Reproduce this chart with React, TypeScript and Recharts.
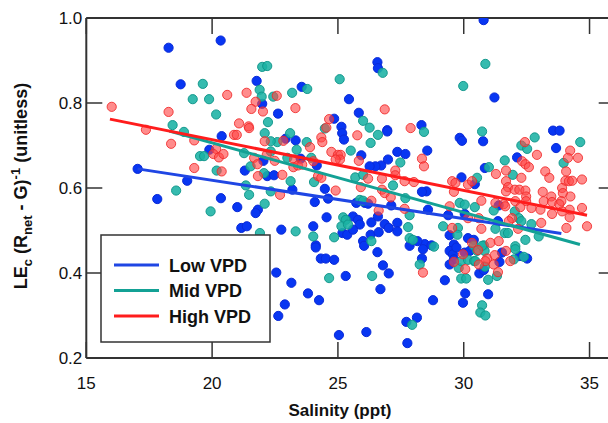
import React from 'react';
import { ScatterChart, Scatter, XAxis, YAxis } from 'recharts';

const xTicks = [15, 20, 25, 30, 35];
const yTicks = [0.2, 0.4, 0.6, 0.8, 1.0];
const seriesNames = ['Low VPD', 'Mid VPD', 'High VPD'];

const lowVPD: [number, number][] = [
  [18.27, 0.93], [20.34, 0.947], [18.75, 0.844], [21.77, 0.852], [21.99, 0.798], [22.62, 0.775], [23.56, 0.838],
  [25.44, 0.809], [24.85, 0.763], [25.14, 0.744], [26.57, 0.896], [26.59, 0.882], [25.83, 0.777], [28.32, 0.748],
  [26.96, 0.736], [30.79, 0.995], [31.22, 0.813], [33.55, 0.735], [33.81, 0.735], [20.38, 0.722], [19.89, 0.69],
  [17.04, 0.645], [19.01, 0.617], [17.82, 0.574], [20.35, 0.576], [22.92, 0.716], [23.32, 0.712], [25.17, 0.729],
  [25.24, 0.714], [22.04, 0.664], [23.52, 0.669], [24.16, 0.653], [21.3, 0.641], [22.19, 0.628], [22.46, 0.63],
  [24.48, 0.598], [23.19, 0.596], [24.08, 0.567], [24.61, 0.575], [21.0, 0.555], [21.82, 0.549], [21.73, 0.541],
  [21.16, 0.506], [21.38, 0.51], [22.75, 0.502], [24.02, 0.51], [24.55, 0.531], [25.18, 0.494], [24.12, 0.465],
  [25.37, 0.49], [26.96, 0.733], [29.84, 0.718], [29.93, 0.711], [25.93, 0.677], [27.36, 0.685], [27.68, 0.68],
  [28.55, 0.688], [26.99, 0.667], [26.72, 0.653], [26.49, 0.651], [26.26, 0.651], [28.52, 0.592], [28.34, 0.591],
  [29.91, 0.625], [25.73, 0.565], [26.07, 0.565], [26.2, 0.563], [27.12, 0.559], [28.58, 0.549], [29.38, 0.536],
  [30.04, 0.539], [25.6, 0.533], [25.8, 0.525], [25.87, 0.514], [25.6, 0.502], [26.33, 0.519], [26.59, 0.533],
  [26.86, 0.515], [27.02, 0.506], [27.36, 0.518], [27.36, 0.498], [26.3, 0.49], [26.62, 0.496], [26.0, 0.475],
  [28.45, 0.468], [28.72, 0.465], [28.16, 0.475], [29.44, 0.489], [30.17, 0.482], [29.61, 0.467], [30.77, 0.71],
  [33.67, 0.694], [32.12, 0.672], [30.84, 0.647], [30.44, 0.609], [31.39, 0.559], [31.36, 0.522], [30.4, 0.478],
  [24.12, 0.46], [24.32, 0.434], [24.52, 0.434], [24.85, 0.431], [22.55, 0.401], [25.31, 0.393], [23.15, 0.377],
  [23.81, 0.352], [24.25, 0.336], [22.89, 0.326], [22.63, 0.299], [25.04, 0.254], [26.57, 0.449], [27.85, 0.464],
  [28.38, 0.456], [28.34, 0.434], [26.79, 0.418], [27.02, 0.399], [26.69, 0.362], [29.25, 0.383], [28.78, 0.336],
  [27.72, 0.285], [28.14, 0.295], [26.13, 0.261], [27.76, 0.235], [29.44, 0.452], [29.57, 0.444], [29.71, 0.46],
  [29.61, 0.432], [29.44, 0.42], [30.04, 0.448], [30.24, 0.452], [30.06, 0.352], [29.97, 0.33], [26.04, 0.464],
  [30.62, 0.399], [30.8, 0.407], [31.42, 0.426], [31.52, 0.448], [32.23, 0.44], [32.52, 0.434], [30.97, 0.35],
];

const midVPD: [number, number][] = [
  [19.63, 0.845], [19.23, 0.809], [19.88, 0.809], [20.16, 0.773], [18.43, 0.748], [21.99, 0.885], [22.19, 0.887],
  [21.89, 0.831], [21.97, 0.815], [22.43, 0.815], [23.18, 0.824], [23.78, 0.833], [25.07, 0.856], [22.22, 0.755],
  [26.78, 0.871], [29.98, 0.84], [26.0, 0.758], [26.26, 0.742], [30.86, 0.892], [18.88, 0.732], [19.52, 0.675],
  [19.68, 0.675], [20.18, 0.641], [18.57, 0.594], [19.94, 0.545], [22.09, 0.729], [23.1, 0.729], [22.59, 0.708],
  [22.33, 0.71], [23.76, 0.708], [23.36, 0.69], [24.48, 0.74], [21.27, 0.682], [22.33, 0.686], [21.53, 0.651],
  [22.99, 0.671], [23.94, 0.671], [22.06, 0.635], [23.12, 0.616], [24.05, 0.614], [21.34, 0.606], [22.33, 0.592],
  [21.47, 0.584], [22.09, 0.563], [21.9, 0.494], [23.32, 0.498], [25.21, 0.531], [25.31, 0.525], [25.14, 0.51],
  [25.4, 0.514], [24.85, 0.484], [24.02, 0.486], [26.3, 0.706], [26.59, 0.725], [28.42, 0.732], [25.51, 0.688],
  [27.48, 0.66], [25.69, 0.625], [26.0, 0.631], [27.19, 0.606], [25.87, 0.572], [26.0, 0.57], [27.68, 0.576],
  [27.85, 0.536], [29.84, 0.565], [30.04, 0.561], [27.79, 0.508], [26.33, 0.475], [27.85, 0.482], [27.98, 0.478],
  [29.18, 0.51], [29.77, 0.506], [29.75, 0.49], [30.73, 0.733], [32.82, 0.719], [32.29, 0.7], [32.52, 0.692],
  [34.63, 0.708], [33.97, 0.659], [31.63, 0.665], [31.0, 0.649], [31.95, 0.631], [30.53, 0.624], [30.44, 0.555],
  [31.19, 0.547], [32.03, 0.545], [32.19, 0.529], [32.29, 0.522], [31.26, 0.504], [31.63, 0.494], [31.76, 0.494],
  [32.69, 0.515], [30.8, 0.465], [32.05, 0.463], [32.45, 0.478], [32.98, 0.486], [24.65, 0.388], [28.82, 0.462],
  [28.25, 0.42], [26.36, 0.393], [27.95, 0.278], [29.8, 0.412], [29.9, 0.387], [30.1, 0.387], [29.9, 0.428],
  [30.17, 0.431], [30.41, 0.428], [30.4, 0.464], [30.53, 0.452], [30.83, 0.452], [30.73, 0.464], [30.46, 0.428],
  [30.84, 0.415], [31.32, 0.393], [30.97, 0.384], [31.99, 0.432], [32.39, 0.438], [30.73, 0.324], [30.66, 0.307],
  [30.86, 0.3], [32.05, 0.456],
];

const highVPD: [number, number][] = [
  [16.01, 0.791], [18.27, 0.779], [20.6, 0.819], [21.73, 0.803], [22.57, 0.817], [21.37, 0.824], [21.56, 0.786],
  [22.02, 0.78], [23.31, 0.788], [21.07, 0.752], [21.45, 0.745], [24.65, 0.762], [24.54, 0.742], [26.86, 0.785],
  [27.89, 0.741], [17.37, 0.737], [18.37, 0.704], [19.29, 0.712], [20.16, 0.692], [20.05, 0.68], [20.27, 0.672],
  [20.45, 0.68], [19.29, 0.647], [20.38, 0.639], [20.87, 0.725], [20.98, 0.725], [21.47, 0.741], [22.83, 0.711],
  [22.09, 0.71], [23.89, 0.696], [24.34, 0.719], [24.38, 0.708], [21.67, 0.671], [22.17, 0.678], [21.8, 0.656],
  [22.49, 0.664], [23.26, 0.667], [23.23, 0.649], [23.41, 0.653], [23.58, 0.655], [24.02, 0.663], [24.74, 0.685],
  [25.0, 0.678], [25.11, 0.678], [25.08, 0.667], [24.91, 0.667], [21.82, 0.628], [22.79, 0.631], [24.21, 0.628],
  [24.34, 0.624], [24.91, 0.594], [22.7, 0.584], [25.77, 0.724], [25.83, 0.664], [28.34, 0.669], [28.42, 0.651],
  [27.28, 0.641], [27.28, 0.63], [26.2, 0.622], [26.75, 0.622], [27.65, 0.616], [28.02, 0.614], [29.54, 0.616],
  [29.67, 0.612], [29.61, 0.591], [30.17, 0.608], [30.33, 0.616], [25.91, 0.602], [26.75, 0.596], [26.86, 0.588],
  [27.1, 0.578], [26.33, 0.57], [26.62, 0.547], [27.65, 0.551], [29.44, 0.557], [30.17, 0.529], [29.54, 0.506],
  [30.33, 0.471], [32.43, 0.708], [32.91, 0.678], [34.23, 0.688], [34.14, 0.671], [34.54, 0.671], [32.32, 0.663],
  [32.45, 0.656], [32.59, 0.649], [31.68, 0.641], [31.28, 0.633], [32.29, 0.624], [33.24, 0.639], [33.4, 0.624],
  [34.07, 0.639], [34.04, 0.617], [34.18, 0.616], [34.31, 0.617], [34.7, 0.62], [31.68, 0.616], [31.76, 0.602],
  [31.68, 0.592], [32.03, 0.596], [32.21, 0.596], [32.45, 0.594], [33.14, 0.591], [33.48, 0.58], [33.91, 0.6],
  [33.94, 0.588], [34.24, 0.58], [33.88, 0.569], [32.48, 0.58], [32.48, 0.569], [30.7, 0.57], [31.26, 0.565],
  [31.59, 0.562], [31.65, 0.557], [32.05, 0.569], [32.25, 0.555], [32.69, 0.553], [33.05, 0.549], [33.18, 0.569],
  [33.51, 0.567], [33.51, 0.539], [33.8, 0.562], [33.91, 0.545], [34.21, 0.549], [34.21, 0.531], [34.7, 0.553],
  [34.9, 0.51], [31.92, 0.529], [31.79, 0.522], [30.6, 0.529], [30.7, 0.504], [32.16, 0.504], [33.08, 0.518],
  [34.08, 0.506], [31.06, 0.471], [31.39, 0.475], [28.38, 0.401], [29.61, 0.426], [29.97, 0.444], [30.06, 0.409],
  [30.57, 0.454], [30.93, 0.434], [30.86, 0.428], [30.6, 0.42], [31.19, 0.42], [31.23, 0.442], [31.36, 0.402],
  [31.68, 0.452], [31.85, 0.428],
];

const fitLow: [number, number][] = [[17.04, 0.645], [33.88, 0.493]];
const fitMid: [number, number][] = [[18.3, 0.734], [34.62, 0.467]];
const fitHigh: [number, number][] = [[15.94, 0.762], [34.9, 0.536]];

const toPts = (a: [number, number][]) => a.map(([x, y]) => ({ x, y }));

const FONT = '"Liberation Sans", Arial, Helvetica, sans-serif';
const AX = '#333';
const TICK = 16;

const BLUE_PT = { fill: '#0836f2', stroke: '#0a2ad8' };
const TEAL_PT = { fill: 'rgba(26,178,164,0.88)', stroke: 'rgba(16,150,138,0.95)' };
const RED_PT = { fill: 'rgba(255,70,70,0.62)', stroke: 'rgba(240,40,40,0.85)' };

const LINE_COLORS = ['#1f46e4', '#13a195', '#ff1c1c'];

const dot = (style: { fill: string; stroke: string }) => (p: any) => (
  <circle cx={p.cx} cy={p.cy} r={4.6} fill={style.fill} stroke={style.stroke} strokeWidth={1} />
);
const noDot = () => <g />;

const BottomTick = (p: any) => (
  <g>
    <line x1={p.x} x2={p.x} y1={p.y} y2={p.y - TICK} stroke={AX} strokeWidth={1.5} />
    <text x={p.x} y={p.y + 31} textAnchor="middle" fontSize={17} fontFamily={FONT} fill="#111">
      {p.payload.value}
    </text>
  </g>
);
const TopTick = (p: any) => (
  <line x1={p.x} x2={p.x} y1={p.y} y2={p.y + TICK} stroke={AX} strokeWidth={1.5} />
);
const LeftTick = (p: any) => (
  <g>
    <line x1={p.x} x2={p.x + TICK} y1={p.y} y2={p.y} stroke={AX} strokeWidth={1.5} />
    <text x={p.x - 4} y={p.y + 6} textAnchor="end" fontSize={17} fontFamily={FONT} fill="#111">
      {Number(p.payload.value).toFixed(1)}
    </text>
  </g>
);
const RightTick = (p: any) => (
  <line x1={p.x} x2={p.x - TICK} y1={p.y} y2={p.y} stroke={AX} strokeWidth={1.5} />
);

const YTitle = () => (
  <text
    x={27}
    y={186}
    transform="rotate(-90, 27, 186)"
    textAnchor="middle"
    fontFamily={FONT}
    fontWeight="bold"
    fontSize={18}
    fill="#111"
  >
    LE<tspan dy={5} fontSize={13}>c</tspan>
    <tspan dy={-5}> (R</tspan>
    <tspan dy={5} fontSize={13}>net</tspan>
    <tspan dy={-5}> - G)</tspan>
    <tspan dy={-7} fontSize={13}>-1</tspan>
    <tspan dy={7}> (unitless)</tspan>
  </text>
);

const XTitle = () => (
  <text x={340} y={416} textAnchor="middle" fontFamily={FONT} fontWeight="bold" fontSize={17} fill="#111">
    Salinity (ppt)
  </text>
);

const Legend = () => {
  const rows = [0, 1, 2];
  return (
    <svg width={175} height={115} style={{ position: 'absolute', left: 100, top: 234 }}>
      <rect x={1} y={1} width={169} height={107} fill="#fff" stroke={AX} strokeWidth={1.5} />
      {rows.map((i) => (
        <g key={i}>
          <line x1={14} x2={59} y1={31 + i * 25.5} y2={31 + i * 25.5} stroke={LINE_COLORS[i]} strokeWidth={3} />
          <text x={69} y={37.5 + i * 25.5} fontFamily={FONT} fontWeight="bold" fontSize={18} fill="#111">
            {seriesNames[i]}
          </text>
        </g>
      ))}
    </svg>
  );
};

export default function App() {
  return (
    <div
      style={{
        position: 'absolute',
        left: 0,
        top: 0,
        width: 608,
        height: 423,
        overflow: 'hidden',
        background: '#fff',
      }}
    >
      <ScatterChart width={620} height={423} margin={{ top: 17, right: 4.3, bottom: 64, left: 85.3 }}>
        <XAxis
          xAxisId="b"
          dataKey="x"
          type="number"
          domain={[15, 36]}
          ticks={xTicks}
          orientation="bottom"
          height={1}
          tickSize={0}
          tickMargin={0}
          tickLine={false}
          tick={<BottomTick />}
          axisLine={{ stroke: AX, strokeWidth: 2 }}
          allowDataOverflow
          interval={0}
        />
        <XAxis
          xAxisId="t"
          dataKey="x"
          type="number"
          domain={[15, 36]}
          ticks={xTicks}
          orientation="top"
          height={1}
          tickSize={0}
          tickMargin={0}
          tickLine={false}
          tick={<TopTick />}
          axisLine={{ stroke: AX, strokeWidth: 2 }}
          allowDataOverflow
          interval={0}
        />
        <YAxis
          yAxisId="l"
          dataKey="y"
          type="number"
          domain={[0.2, 1.0]}
          ticks={yTicks}
          orientation="left"
          width={1}
          tickSize={0}
          tickMargin={0}
          tickLine={false}
          tick={<LeftTick />}
          axisLine={{ stroke: AX, strokeWidth: 2 }}
          allowDataOverflow
          interval={0}
        />
        <YAxis
          yAxisId="r"
          dataKey="y"
          type="number"
          domain={[0.2, 1.0]}
          ticks={yTicks}
          orientation="right"
          width={1}
          tickSize={0}
          tickMargin={0}
          tickLine={false}
          tick={<RightTick />}
          axisLine={{ stroke: AX, strokeWidth: 2 }}
          allowDataOverflow
          interval={0}
        />
        <Scatter xAxisId="b" yAxisId="l" data={toPts(lowVPD)} shape={dot(BLUE_PT)} isAnimationActive={false} />
        <Scatter xAxisId="b" yAxisId="l" data={toPts(midVPD)} shape={dot(TEAL_PT)} isAnimationActive={false} />
        <Scatter xAxisId="b" yAxisId="l" data={toPts(highVPD)} shape={dot(RED_PT)} isAnimationActive={false} />
        <Scatter
          xAxisId="b"
          yAxisId="l"
          data={toPts(fitLow)}
          line={{ stroke: LINE_COLORS[0], strokeWidth: 3 }}
          shape={noDot}
          isAnimationActive={false}
        />
        <Scatter
          xAxisId="b"
          yAxisId="l"
          data={toPts(fitMid)}
          line={{ stroke: LINE_COLORS[1], strokeWidth: 3 }}
          shape={noDot}
          isAnimationActive={false}
        />
        <Scatter
          xAxisId="b"
          yAxisId="l"
          data={toPts(fitHigh)}
          line={{ stroke: LINE_COLORS[2], strokeWidth: 3 }}
          shape={noDot}
          isAnimationActive={false}
        />
      </ScatterChart>
      <svg width={608} height={423} style={{ position: 'absolute', left: 0, top: 0, pointerEvents: 'none' }}>
        <YTitle />
        <XTitle />
      </svg>
      <Legend />
    </div>
  );
}
